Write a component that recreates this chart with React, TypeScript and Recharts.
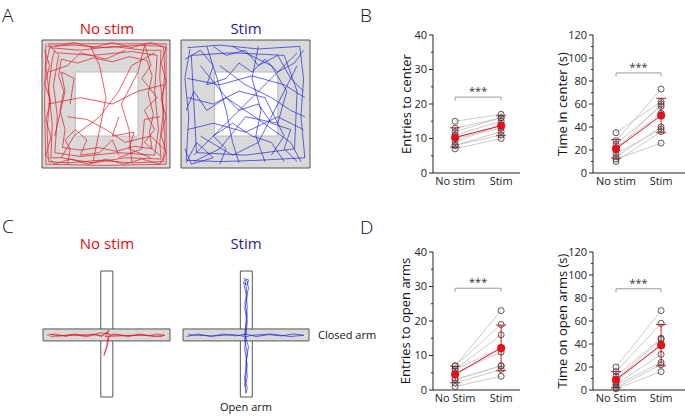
import React from 'react'
import { ComposedChart, Line, Scatter, XAxis, YAxis, ErrorBar, ReferenceArea, ReferenceDot } from 'recharts'

const FONT = '"Open Sans", "DejaVu Sans", sans-serif'
const RED = '#e3101a'
const BLUE = '#1a22d6'
const TITLE_RED = '#dd0b12'
const TITLE_BLUE = '#1f1f8c'

// ---- panel B / D values ----
const groupsB = ['No stim', 'Stim']
const groupsD = ['No Stim', 'Stim']

const entriesCenterNoStim = [15, 13, 12, 11, 10, 9, 8, 8, 7]
const entriesCenterStim = [17, 16, 16, 15, 13, 14, 12, 11, 10]
const entriesCenterMean = [10.3, 13.7]
const entriesCenterErr = [2.8, 2.9]

const timeCenterNoStim = [35, 28, 25, 22, 20, 17, 14, 12, 10]
const timeCenterStim = [62, 73, 58, 52, 60, 38, 40, 26, 36]
const timeCenterMean = [21, 50]
const timeCenterErr = [8, 15]

const entriesOpenNoStim = [7, 7, 6, 6, 5, 3, 3, 2, 1]
const entriesOpenStim = [19, 23, 16, 12, 11, 7, 7, 6, 4]
const entriesOpenMean = [4.5, 12.2]
const entriesOpenErr = [2.4, 6.6]

const timeOpenNoStim = [20, 16, 12, 9, 7, 5, 4, 2, 1]
const timeOpenStim = [69, 58, 45, 44, 40, 31, 24, 22, 16]
const timeOpenMean = [9, 39]
const timeOpenErr = [7, 18]

const ticks40 = [0, 5, 10, 15, 20, 25, 30, 35, 40]
const ticks120 = [0, 10, 20, 30, 40, 50, 60, 70, 80, 90, 100, 110, 120]

// ---- panel A trajectories (arena units 0-100, y downwards) ----
const redField1 = [[4, 5], [25, 4], [50, 6], [75, 4], [95, 5], [96, 25], [94, 50], [96, 75], [95, 95], [70, 96], [45, 94], [20, 96], [5, 95], [4, 70], [6, 45], [3, 20], [6, 6], [30, 8], [55, 5], [80, 8], [93, 8], [92, 30], [95, 55], [92, 80], [93, 93], [65, 92], [40, 96], [15, 92], [7, 92], [8, 65], [5, 40], [8, 15], [10, 8]]
const redField2 = [[12, 10], [40, 12], [70, 9], [90, 12], [88, 40], [91, 70], [88, 90], [60, 88], [30, 91], [10, 88], [12, 60], [9, 35], [13, 12], [5, 3], [50, 3], [97, 3], [97, 50], [97, 97], [50, 98], [3, 97], [2, 50], [3, 3]]
const redField3 = [[15, 92], [25, 75], [45, 60], [60, 40], [70, 20], [88, 10]]
const redField4 = [[40, 95], [45, 70], [50, 45], [45, 20], [38, 5]]
const redField5 = [[5, 50], [30, 45], [55, 50], [75, 40], [95, 35]]
const redField6 = [[70, 95], [68, 70], [62, 50], [75, 25], [80, 5]]
const redField7 = [[5, 25], [20, 20], [30, 10], [50, 15], [65, 8]]
const redField8 = [[20, 60], [35, 62], [50, 70], [65, 80], [85, 75], [95, 85]]
const redField9 = [[92, 60], [80, 62], [78, 85], [60, 92]]
const redField10 = [[10, 75], [18, 40], [15, 25], [25, 30], [22, 50]]
const redField11 = [[15, 15], [28, 18], [40, 14], [55, 17], [68, 13], [82, 16], [86, 28], [83, 42], [87, 58], [84, 72], [86, 85], [72, 83], [58, 87], [44, 84], [30, 86], [16, 84], [18, 70], [14, 55], [17, 40], [13, 28], [15, 15]]
const redField12 = [[2, 8], [6, 20], [2, 34], [7, 48], [3, 62], [7, 76], [3, 90], [10, 97], [22, 93], [36, 97], [50, 93], [64, 97], [78, 93], [92, 97], [97, 88], [93, 74], [97, 60], [93, 46], [97, 32], [93, 18], [97, 6], [85, 2], [70, 6], [55, 2], [40, 6], [25, 2], [10, 5]]
const redField13 = [[20, 97], [22, 85], [18, 78], [26, 70], [35, 78], [30, 90], [45, 88], [55, 78], [60, 90]]
const redField14 = [[80, 3], [85, 20], [78, 30], [90, 45], [80, 55], [88, 70], [80, 80], [92, 90]]
const redField15 = [[60, 60], [55, 75], [72, 72], [68, 85], [85, 92]]

const blueField1 = [[5, 6], [30, 4], [60, 7], [92, 5], [95, 30], [93, 60], [96, 92], [60, 94], [30, 95], [4, 94], [6, 60], [3, 30], [7, 7]]
const blueField2 = [[8, 12], [40, 10], [80, 12], [90, 40], [88, 85], [50, 90], [12, 88], [10, 50], [8, 12]]
const blueField3 = [[5, 30], [30, 35], [55, 28], [80, 35], [96, 45]]
const blueField4 = [[10, 90], [30, 70], [50, 50], [70, 30], [90, 10]]
const blueField5 = [[20, 5], [28, 30], [35, 55], [40, 80], [45, 96]]
const blueField6 = [[60, 5], [55, 30], [62, 55], [58, 75], [65, 95]]
const blueField7 = [[5, 70], [25, 65], [50, 72], [75, 60], [95, 70]]
const blueField8 = [[15, 20], [35, 45], [60, 62], [85, 80], [93, 95]]
const blueField9 = [[90, 20], [75, 50], [60, 80], [40, 90], [15, 75]]
const blueField10 = [[30, 20], [50, 35], [70, 45], [85, 55], [96, 60]]
const blueField11 = [[5, 45], [25, 50], [45, 40], [65, 45], [80, 75], [70, 90]]
const blueField12 = [[40, 5], [70, 20], [82, 40], [75, 65], [50, 60], [30, 85], [10, 95]]
const blueField13 = [[3, 85], [8, 97], [25, 92], [12, 80], [4, 96]]
const blueField14 = [[3, 15], [15, 8], [25, 20], [20, 35], [35, 30], [45, 18], [55, 25], [65, 15], [75, 25], [88, 18], [95, 8]]
const blueField15 = [[90, 95], [80, 85], [85, 70], [70, 65], [60, 50], [45, 55], [35, 45], [20, 55], [10, 40], [4, 55]]
const blueField16 = [[30, 97], [35, 85], [25, 75], [40, 65], [55, 75], [70, 80], [80, 95]]
const blueField17 = [[95, 40], [85, 30], [75, 12], [60, 20], [50, 8], [35, 12], [25, 5]]

// ---- panel C trajectories ----
const redMaze1 = [[3, 51], [10, 50], [18, 52], [25, 50], [33, 51.5], [40, 50], [46, 52], [50, 49], [54, 51], [60, 50.5], [68, 52], [75, 50], [83, 51.5], [90, 50], [96, 51], [88, 52], [78, 50.5], [65, 51.5], [55, 50], [51, 53], [50, 60], [48, 67], [51, 58], [52, 50], [45, 49], [35, 52], [22, 50.5], [12, 51.5], [5, 50]]
const redMaze2 = [[6, 52], [20, 51], [35, 50.5], [47, 51], [52, 47], [49, 52], [60, 51.5], [80, 51], [94, 52]]

const blueMaze1 = [[3, 52], [12, 50], [22, 52], [32, 50], [42, 51.5], [50, 50], [58, 52], [68, 50.5], [78, 51.5], [88, 50], [96, 51], [85, 52], [70, 50], [55, 51], [50, 52], [40, 50.5], [25, 51.5], [10, 51], [4, 50.5]]
const blueMaze2 = [[50, 51], [51, 40], [49, 30], [51, 20], [50, 12], [49, 7], [51, 8], [52, 14], [49, 25], [51, 35], [50, 45], [49, 55], [51, 65], [50, 75], [49, 85], [51, 93], [50, 97], [49, 88], [51, 75], [49, 62], [50, 52]]
const blueMaze3 = [[48, 6], [52, 7], [51, 11], [48, 9], [50, 18], [51, 28], [50, 40], [49, 51], [52, 60], [50, 72], [51, 84], [49, 92]]

const fieldRed = [redField1, redField2, redField3, redField4, redField5, redField6, redField7, redField8, redField9, redField10, redField11, redField12, redField13, redField14, redField15]
const fieldBlue = [blueField1, blueField2, blueField3, blueField4, blueField5, blueField6, blueField7, blueField8, blueField9, blueField10, blueField11, blueField12, blueField13, blueField14, blueField15, blueField16, blueField17]
const mazeRed = [redMaze1, redMaze2]
const mazeBlue = [blueMaze1, blueMaze2, blueMaze3]

const toPts = (path: number[][]) => path.map(([x, y]) => ({ x, y }))

function Track({ left, top, width, height, paths, color, kind }: any) {
  return (
    <div style={{ position: 'absolute', left, top }}>
      <ComposedChart width={width} height={height} margin={{ top: 1, right: 1, bottom: 1, left: 1 }}>
        <XAxis type="number" dataKey="x" domain={[0, 100]} hide allowDataOverflow />
        <YAxis type="number" dataKey="y" domain={[0, 100]} hide reversed allowDataOverflow />
        {kind === 'field' ? (
          <>
            <ReferenceArea x1={0} x2={100} y1={0} y2={100} fill="#d9d9d9" fillOpacity={1} stroke="#555" strokeWidth={1} />
            <ReferenceArea x1={26} x2={75} y1={25} y2={75} fill="#fff" fillOpacity={1} stroke="#bbb" strokeWidth={1} />
          </>
        ) : (
          <>
            <ReferenceArea x1={45.5} x2={55} y1={0} y2={100} fill="#fff" fillOpacity={1} stroke="#555" strokeWidth={1} />
            <ReferenceArea x1={0} x2={100} y1={46} y2={55.5} fill="#d9d9d9" fillOpacity={1} stroke="#555" strokeWidth={1} />
          </>
        )}
        {paths.map((p: number[][], i: number) => (
          <Line
            key={i}
            data={toPts(p)}
            dataKey="y"
            type="linear"
            stroke={color}
            strokeWidth={0.8}
            strokeOpacity={0.85}
            dot={false}
            isAnimationActive={false}
          />
        ))}
      </ComposedChart>
    </div>
  )
}

const makeTick = (axisX: number, major: number) => (props: any) => {
  const { y, payload } = props
  const v = payload.value
  const isMajor = v % major === 0
  return (
    <g>
      <line x1={axisX - (isMajor ? 4 : 2)} x2={axisX} y1={y} y2={y} stroke="#222" />
      {isMajor && (
        <text x={axisX - 6} y={y} dy="0.35em" textAnchor="end" fontSize={11} fill="#222" fontFamily={FONT}>
          {v}
        </text>
      )}
    </g>
  )
}

function PairedPanel(p: any) {
  const YW = 53
  const subjects = p.pre.map((v: number, i: number) => [{ x: 1, y: v }, { x: 2, y: p.post[i] }])
  const points = [...p.pre.map((v: number) => ({ x: 1, y: v })), ...p.post.map((v: number) => ({ x: 2, y: v }))]
  const means = p.mean.map((m: number, i: number) => ({ x: i + 1, y: m, err: p.err[i] }))
  const bracket = [
    { x: 1, y: p.bracketY - p.drop },
    { x: 1, y: p.bracketY },
    { x: 2, y: p.bracketY },
    { x: 2, y: p.bracketY - p.drop },
  ]
  return (
    <div style={{ position: 'absolute', left: p.left, top: p.top }}>
      <ComposedChart width={p.width} height={173} margin={{ top: 10, right: p.right, bottom: 0, left: 0 }}>
        <XAxis
          type="number"
          dataKey="x"
          domain={p.xDomain}
          ticks={[1, 2]}
          tickFormatter={(v: number) => p.cats[v - 1]}
          allowDataOverflow
          tickLine={false}
          tickSize={0}
          tickMargin={4}
          height={25}
          stroke="#222"
          tick={{ fontSize: 11, fill: '#222', fontFamily: FONT }}
        />
        <YAxis
          type="number"
          dataKey="y"
          domain={[0, p.yMax]}
          ticks={p.ticks}
          interval={0}
          width={YW}
          tickLine={false}
          stroke="#222"
          tick={makeTick(YW, p.major)}
        />
        {subjects.map((s: any, i: number) => (
          <Line key={i} data={s} dataKey="y" stroke="#c4c4c4" strokeWidth={0.9} dot={false} isAnimationActive={false} />
        ))}
        <Line data={bracket} dataKey="y" stroke="#999" strokeWidth={1} dot={false} isAnimationActive={false} />
        <ReferenceDot
          x={1.5}
          y={p.bracketY}
          r={0}
          fill="none"
          stroke="none"
          label={{ value: '***', position: 'top', offset: 2, fontSize: 11, fill: '#333', fontFamily: FONT }}
        />
        <Scatter
          data={points}
          isAnimationActive={false}
          shape={(s: any) => <circle cx={s.cx} cy={s.cy} r={3} fill="#fff" fillOpacity={0} stroke="#444" strokeWidth={0.9} />}
        />
        <Line data={means} dataKey="y" stroke={RED} strokeWidth={1} dot={false} isAnimationActive={false} />
        <Scatter
          data={means}
          isAnimationActive={false}
          shape={(s: any) => <circle cx={s.cx} cy={s.cy} r={4} fill={RED} />}
        >
          <ErrorBar dataKey="err" direction="y" width={5} stroke={RED} strokeWidth={1} isAnimationActive={false} />
        </Scatter>
      </ComposedChart>
    </div>
  )
}

export default function App() {
  const t = { fontFamily: FONT }
  return (
    <div style={{ position: 'absolute', left: 0, top: 0, width: 685, height: 416, background: '#fff', overflow: 'hidden' }}>
      <Track left={41} top={39} width={130} height={130} paths={fieldRed} color={RED} kind="field" />
      <Track left={180} top={39} width={131} height={130} paths={fieldBlue} color={BLUE} kind="field" />
      <Track left={42} top={270} width={129} height={128} paths={mazeRed} color={RED} kind="maze" />
      <Track left={182} top={270} width={128} height={128} paths={mazeBlue} color={BLUE} kind="maze" />

      <PairedPanel left={380} top={25} width={142} right={2} xDomain={[0.52, 2.41]} cats={groupsB}
        pre={entriesCenterNoStim} post={entriesCenterStim} mean={entriesCenterMean} err={entriesCenterErr}
        yMax={40} ticks={ticks40} major={10} bracketY={22} drop={1} />
      <PairedPanel left={540} top={25} width={145} right={0} xDomain={[0.49, 2.53]} cats={groupsB}
        pre={timeCenterNoStim} post={timeCenterStim} mean={timeCenterMean} err={timeCenterErr}
        yMax={120} ticks={ticks120} major={20} bracketY={87} drop={3} />
      <PairedPanel left={380} top={242} width={142} right={2} xDomain={[0.52, 2.41]} cats={groupsD}
        pre={entriesOpenNoStim} post={entriesOpenStim} mean={entriesOpenMean} err={entriesOpenErr}
        yMax={40} ticks={ticks40} major={10} bracketY={29.5} drop={1} />
      <PairedPanel left={540} top={242} width={145} right={0} xDomain={[0.49, 2.53]} cats={groupsD}
        pre={timeOpenNoStim} post={timeOpenStim} mean={timeOpenMean} err={timeOpenErr}
        yMax={120} ticks={ticks120} major={20} bracketY={88} drop={3} />

      <svg width={685} height={416} style={{ position: 'absolute', left: 0, top: 0, pointerEvents: 'none' }}>
        <g {...t} fill="#111" fontSize={19} fontWeight={300}>
          <text x={2} y={22}>A</text>
          <text x={360} y={22}>B</text>
          <text x={2} y={233}>C</text>
          <text x={360} y={234}>D</text>
        </g>
        <g {...t} fontSize={15} textAnchor="middle">
          <text x={107} y={34} fill={TITLE_RED}>No stim</text>
          <text x={246} y={34} fill={TITLE_BLUE}>Stim</text>
          <text x={107} y={249} fill={TITLE_RED}>No stim</text>
          <text x={246} y={249} fill={TITLE_BLUE}>Stim</text>
        </g>
        <g {...t} fontSize={11} fill="#111">
          <text x={318} y={339}>Closed arm</text>
          <text x={246} y={411} textAnchor="middle">Open arm</text>
        </g>
        <g {...t} fontSize={13} fill="#111" textAnchor="middle" dominantBaseline="central">
          <text x={406} y={104} transform="rotate(-90 406 104)">Entries to center</text>
          <text x={562} y={104} transform="rotate(-90 562 104)">Time in center (s)</text>
          <text x={405} y={321} transform="rotate(-90 405 321)">Entries to open arms</text>
          <text x={562} y={321} transform="rotate(-90 562 321)">Time on open arms (s)</text>
        </g>
      </svg>
    </div>
  )
}
